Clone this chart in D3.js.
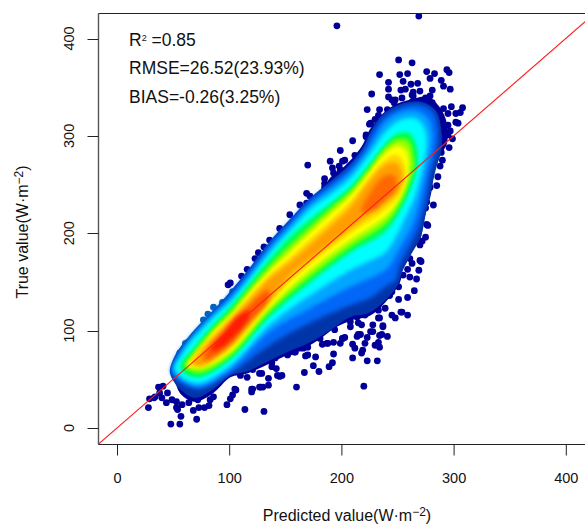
<!DOCTYPE html>
<html><head><meta charset="utf-8">
<script src="https://cdn.jsdelivr.net/npm/d3@7/dist/d3.min.js"></script>
<style>html,body{margin:0;padding:0;background:#fff}svg{display:block}text{font-family:"Liberation Sans",Arial,sans-serif;fill:#111}</style>
</head><body><div id="c"></div>
<script>
const xTicks=[0,100,200,300,400];
const yTicks=[0,100,200,300,400];
const xTitle="Predicted value(W·m";
const yTitle="True value(W·m";
const statR2="=0.85", statRMSE="RMSE=26.52(23.93%)", statBIAS="BIAS=-0.26(3.25%)";
const identityLine=[[-30,-30],[440,440]];

// density contours, [predicted, true]
const contour0=[[52,52],[56,66],[66,88],[78,105],[88,118],[102,135],[113,150],[124,165],[142,190],[164,222],[181,240],[190,257],[203,269],[218,289],[225,306],[237,323],[248,332],[261,337],[277,340],[288,329],[294,313],[294,292],[288,280],[283,265],[280,241],[276,224],[273,210],[270,193],[261,180],[255,165],[252,149],[239,129],[225,115],[210,111],[196,104],[175,87],[148,73],[130,63],[116,56],[101,52],[86,36],[69,27],[56,36]];
const contourOuter=[[47,58],[51,73],[59,87],[69,101],[79,113],[89,125],[100,139],[118,164],[135,190],[153,213],[171,235],[189,252],[207,270],[220,289],[225,302],[236,321],[251,332],[270,335],[284,326],[289,306],[289,285],[284,265],[279,239],[275,219],[271,197],[262,178],[254,160],[250,146],[238,130],[224,118],[208,114],[192,102],[172,88],[148,76],[130,66],[116,58],[101,54],[86,40],[70,31],[58,38],[51,47]];
const contour1=[[48,58],[52,72],[60,86],[70,100],[80,112],[90,124],[101,138],[119,163],[136,189],[154,212],[172,234],[190,250],[208,268],[221,287],[226,299],[237,318],[252,329],[270,332],[282,324],[286,306],[285,285],[280,265],[276,239],[272,219],[267,201],[259,183],[252,167],[248,152],[239,145],[226,134],[208,126],[172,108],[136,85],[101,56],[74,40],[61,44],[53,50]];
const contour2=[[49,60],[54,74],[62,88],[72,102],[84,116],[101,134],[119,159],[136,185],[154,208],[172,230],[190,246],[208,263],[224,287],[239,314],[252,324],[266,326],[277,318],[281,301],[279,280],[275,260],[270,234],[263,208],[252,185],[245,170],[239,162],[226,154],[208,145],[172,123],[136,99],[101,60],[74,43],[62,46],[54,52]];
const contour3=[[51,62],[57,74],[65,88],[74,99],[87,115],[101,130],[119,155],[136,180],[154,203],[172,225],[190,240],[208,257],[224,280],[239,304],[252,316],[266,318],[274,308],[276,290],[273,270],[266,239],[257,216],[248,195],[239,180],[226,172],[208,162],[172,136],[136,106],[101,64],[74,46],[60,50]];
const contour4=[[56,63],[60,72],[68,82],[74,91],[87,108],[101,125],[119,150],[136,174],[154,197],[172,215],[190,231],[208,248],[224,270],[239,292],[250,303],[261,303],[267,290],[268,270],[263,249],[252,222],[239,201],[208,180],[172,149],[136,114],[101,70],[74,52],[61,55]];
const contour45=[[60,64],[65,73],[71,82],[87,104],[101,120],[119,145],[136,167],[154,188],[172,207],[190,226],[208,244],[224,266],[239,288],[250,297],[260,295],[264,280],[265,270],[260,249],[251,227],[239,209],[208,186],[172,155],[136,119],[101,74],[76,57],[66,58]];
const contour5=[[62,65],[67,74],[74,83],[87,101],[101,116],[119,141],[136,162],[154,181],[172,201],[190,220],[208,239],[224,262],[239,283],[250,290],[258,285],[260,270],[257,249],[250,232],[239,217],[208,193],[172,162],[136,124],[101,78],[78,63],[68,62]];
const contour56=[[65,65],[71,79],[87,98],[101,114],[119,137],[136,158],[154,175],[172,194],[190,213],[208,233],[224,257],[239,276],[249,281],[256,272],[257,255],[251,238],[239,224],[212,203],[172,168],[154,150],[136,127],[119,103],[101,81],[80,65],[72,63]];
const contour6=[[69,65],[74,76],[87,94],[101,111],[119,133],[136,154],[154,170],[172,188],[190,207],[208,227],[224,252],[239,270],[249,272],[254,260],[251,244],[239,232],[217,213],[194,193],[172,174],[154,157],[136,131],[119,109],[101,84],[83,68],[74,63]];
const contour7a=[[77,72],[87,90],[101,105],[114,121],[126,135],[135,142],[135,131],[119,109],[103,88],[87,74],[80,70]];
const contour7b=[[218,222],[227,244],[239,259],[247,259],[249,248],[240,234],[227,222]];
const contour8=[[83,80],[94,97],[108,116],[117,121],[117,113],[105,95],[92,82]];
const bandColors=["#0062cc","#009ce8","#00ecf8","#2cff70","#a8ff30","#ffff00","#ffd000","#ffa000","#ff6000","#ff7000","#ff2a00"];
const outerBandColor="#0036aa";

// outlying observations, [predicted, true]
const edgePoints=[[77,111],[81,117],[86,124],[94,129],[56,77],[61,87],[63,88],[103,140]];
const pointsRim=[[96,54],[110,62],[123,65],[141,72],[154,78],[168,85],[181,92],[194,101],[208,109],[221,116],[233,126],[245,140],[255,157],[261,174],[270,188],[277,208],[282,229],[285,249],[290,275],[295,301],[172,238],[185,251],[199,265],[212,280],[222,301],[233,321],[248,337],[263,342],[279,341]];
const pointsTop=[[196,413],[269,423],[251,378],[263,375],[234,363],[252,363],[259,364],[276,366],[283,364],[294,368],[296,365],[279,359],[289,357],[291,351],[297,348],[242,355],[255,356],[262,353],[268,354],[242,348],[253,347],[257,348],[264,345],[270,346],[281,347],[227,343],[242,340],[245,337],[254,339],[264,341],[247,334],[263,335],[275,339],[278,337],[281,334],[298,330],[308,329],[306,324],[302,323],[295,323],[291,328],[234,327],[241,327],[223,327],[230,317],[225,312],[226,313],[295,311],[302,314],[304,313],[297,305],[299,297],[296,288],[289,283],[288,269],[286,258],[222,299],[210,295],[199,285],[190,274],[170,270],[201,274],[203,275],[198,269],[192,267],[193,262],[185,256],[169,241],[185,247],[177,234],[163,229],[169,231],[101,149],[99,147],[111,156],[116,163],[123,174],[126,180],[131,186],[136,193],[145,205],[154,219]];
const pointsRight=[[272,192],[271,171],[269,162],[267,153],[265,141],[259,134],[261,155],[263,169],[270,172],[259,163],[259,116],[254,119],[248,113],[245,116],[251,132],[241,94],[237,104],[234,95],[233,88],[234,83],[230,85],[232,69],[223,69],[219,80],[218,77],[210,72],[212,82],[210,86],[223,93],[221,87],[217,96],[214,94],[226,99],[201,92],[199,87],[193,88],[187,87],[183,86],[193,76],[192,67],[189,63],[180,58],[175,64],[167,57],[177,73],[170,75],[170,83],[166,82],[220,43],[234,113],[233,121],[239,123],[243,136],[251,145],[275,196],[276,209],[275,226],[276,232],[279,247],[253,119],[237,105],[228,99],[214,114],[215,108],[208,104],[215,96],[236,96],[203,93],[233,113],[228,106],[218,106]];
const pointsLower=[[160,42],[130,42],[135,44],[127,42],[121,40],[105,40],[135,51],[116,52],[145,53],[142,61],[129,56],[138,63],[156,85],[159,78],[152,75],[143,54],[147,54],[138,67],[127,56],[110,54],[121,60],[168,74],[158,78],[163,91],[170,88],[163,82],[188,87],[201,92],[131,17],[114,19],[120,37],[120,40],[128,42],[98,24],[101,30],[103,34],[106,39]];
const pointsLeft=[[28,21],[48,4],[56,4],[71,9],[57,12],[54,19],[68,18],[73,21],[78,21],[82,23],[72,29],[83,29],[86,32],[29,30],[33,31],[40,31],[37,42],[41,43],[44,26],[49,29],[38,36],[45,36],[53,27],[64,26],[58,24],[34,32],[53,21]];

const W=585,H=527,L=98.5,T=13.5,B=444.5;
const x=d3.scaleLinear().domain([0,400]).range([117,565.8]);
const y=d3.scaleLinear().domain([0,400]).range([428,38.5]);
const svg=d3.select("#c").append("svg").attr("width",W).attr("height",H);
const defs=svg.append("defs");
defs.append("clipPath").attr("id","plot").append("rect").attr("x",L).attr("y",T).attr("width",W-L).attr("height",B-T);
const f=defs.append("filter").attr("id","soft").attr("filterUnits","userSpaceOnUse").attr("x",0).attr("y",0).attr("width",W).attr("height",H).attr("color-interpolation-filters","sRGB");
f.append("feGaussianBlur").attr("stdDeviation",1.9);
f.append("feColorMatrix").attr("type","saturate").attr("values",1.35);
const f2=defs.append("filter").attr("id","soft2").attr("filterUnits","userSpaceOnUse").attr("x",0).attr("y",0).attr("width",W).attr("height",H);
f2.append("feGaussianBlur").attr("stdDeviation",0.6);

const area=d3.line().x(d=>x(d[0])).y(d=>y(d[1])).curve(d3.curveCatmullRomClosed.alpha(0.5));
const dark="#000099";
const g=svg.append("g").attr("clip-path","url(#plot)");
g.append("path").attr("d",area(contour0)).attr("fill",dark);
[pointsRim,pointsTop,pointsRight,pointsLower,pointsLeft].forEach(p=>{
  g.append("g").selectAll("circle").data(p).join("circle")
   .attr("cx",d=>x(d[0])).attr("cy",d=>y(d[1])).attr("r",3.4).attr("fill",dark);
});
g.append("g").selectAll("circle").data(edgePoints).join("circle")
   .attr("cx",d=>x(d[0])).attr("cy",d=>y(d[1])).attr("r",3.4).attr("fill","#0060c0");
g.append("path").attr("d",area(contourOuter)).attr("fill",outerBandColor).attr("filter","url(#soft2)");
const bands=g.append("g").attr("filter","url(#soft)");
[contour1,contour2,contour3,contour4,contour45,contour5,contour56,contour6,contour7a,contour7b,contour8].forEach((c,i)=>{
  bands.append("path").attr("d",area(c)).attr("fill",bandColors[i]);
});
g.append("path").attr("d",d3.line().x(d=>x(d[0])).y(d=>y(d[1]))(identityLine)).attr("stroke","#ff1c1c").attr("stroke-width",1.1).attr("fill","none");

// frame
const ink="#222";
svg.append("line").attr("x1",L).attr("x2",L).attr("y1",T).attr("y2",B).attr("stroke","#555").attr("stroke-width",1.4);
svg.append("line").attr("x1",L).attr("x2",W).attr("y1",T).attr("y2",T).attr("stroke",ink).attr("stroke-width",1);
svg.append("line").attr("x1",L).attr("x2",W).attr("y1",B).attr("y2",B).attr("stroke",ink).attr("stroke-width",1);
const ax=svg.append("g").attr("transform",`translate(0,${B})`)
  .call(d3.axisBottom(x).tickValues(xTicks).tickSize(11).tickPadding(0).tickFormat(d3.format("d")));
ax.select(".domain").remove();
ax.selectAll("line").attr("stroke",ink);
ax.selectAll("text").attr("y",38.5).attr("dy",0).style("font-size","14.5px").style("fill","#111");
const ay=svg.append("g").attr("transform",`translate(${L},0)`)
  .call(d3.axisLeft(y).tickValues(yTicks).tickSize(11).tickFormat(d3.format("d")));
ay.select(".domain").remove();
ay.selectAll("line").attr("stroke",ink);
ay.selectAll("text").attr("x",null).attr("dy",0).attr("y",null)
  .attr("text-anchor","middle")
  .attr("transform",d=>`translate(-25,${y(d)}) rotate(-90)`).style("font-size","14.5px").style("fill","#111");
ay.selectAll(".tick").attr("transform",null);
ay.selectAll(".tick line").attr("y1",d=>Math.round(y(d))+.5).attr("y2",d=>Math.round(y(d))+.5);

function title(sel,base){
  sel.style("font-size","16px");
  sel.append("tspan").text(base);
  sel.append("tspan").text("−2").attr("dy",-5).style("font-size","12px");
  sel.append("tspan").text(")").attr("dy",5);
}
svg.append("text").attr("x",347).attr("y",521).attr("text-anchor","middle").call(title,xTitle);
svg.append("text").attr("transform","translate(28,232) rotate(-90)").attr("text-anchor","middle").call(title,yTitle);

const s=svg.append("g").style("font-size","17.5px");
const r2=s.append("text").attr("x",129).attr("y",46);
r2.append("tspan").text("R");
r2.append("tspan").text("2").attr("dy",-5).style("font-size","9px");
r2.append("tspan").text(" "+statR2).attr("dy",5);
s.append("text").attr("x",129).attr("y",74).text(statRMSE);
s.append("text").attr("x",129).attr("y",103).text(statBIAS);
</script></body></html>
